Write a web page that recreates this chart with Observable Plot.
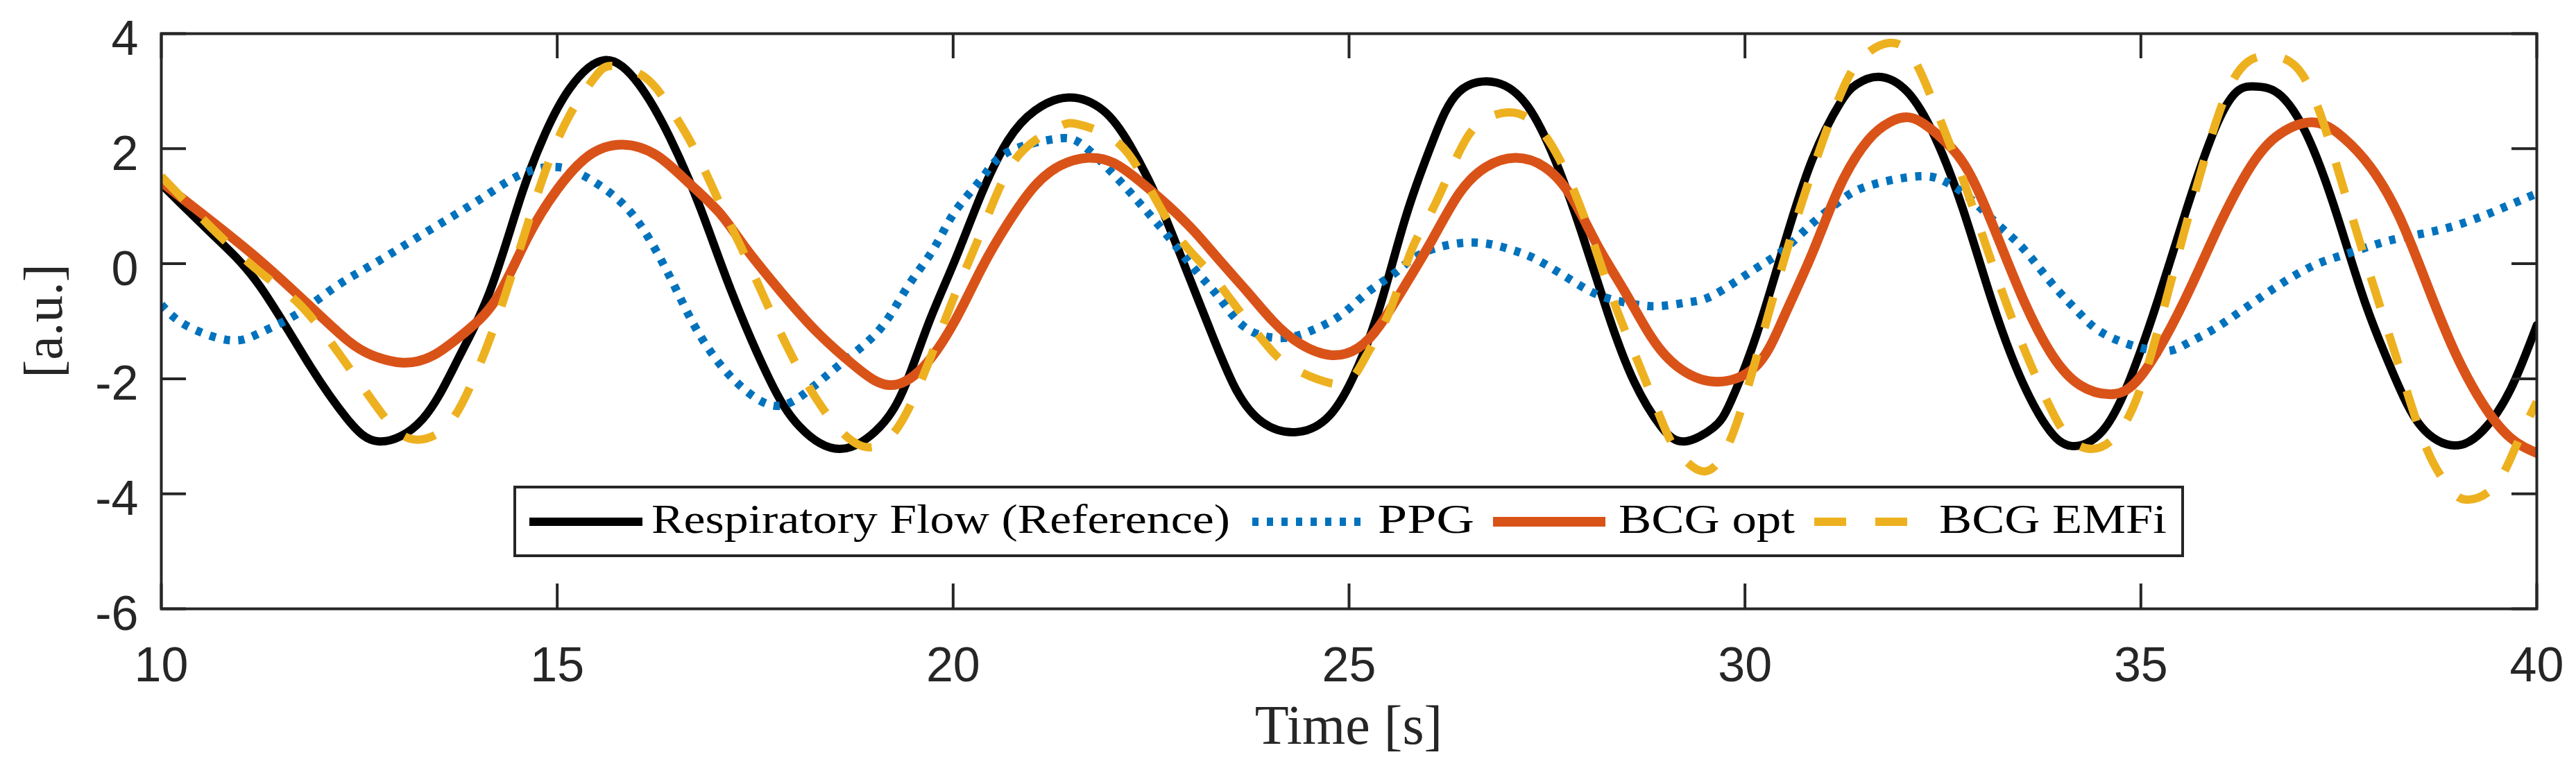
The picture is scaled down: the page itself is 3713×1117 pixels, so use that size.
<!DOCTYPE html>
<html>
<head>
<meta charset="utf-8">
<script src="https://cdn.jsdelivr.net/npm/d3@7"></script>
<script src="https://cdn.jsdelivr.net/npm/@observablehq/plot@0.6"></script>
<style>
  html, body { margin: 0; padding: 0; background: #ffffff; }
  #chart { width: 3713px; height: 1117px; }
</style>
</head>
<body>
<div id="chart"></div>
<script>
// ---- Tick labels ----
const xTicks = [10, 15, 20, 25, 30, 35, 40];
const yTicks = [-6, -4, -2, 0, 2, 4];

// ---- Series names ----
const seriesNames = ["Respiratory Flow (Reference)", "PPG", "BCG opt", "BCG EMFi"];

// ---- Respiratory Flow (Reference) ----
const flowT = [10.0, 10.7, 11.25, 11.88, 12.35, 12.75, 13.3, 13.75, 14.15, 14.54, 14.85, 15.16, 15.6, 16.03, 16.42, 16.81, 17.2, 17.67, 18.06, 18.57, 19.08, 19.4, 19.7, 20.02, 20.36, 20.69, 21.03, 21.46, 21.9, 22.23, 22.57, 22.9, 23.24, 23.57, 23.91, 24.31, 24.71, 25.05, 25.39, 25.72, 26.06, 26.39, 26.86, 27.26, 27.6, 27.93, 28.27, 28.6, 28.94, 29.24, 29.6, 29.82, 30.14, 30.49, 30.85, 31.2, 31.41, 31.69, 32.05, 32.4, 32.75, 33.11, 33.46, 33.81, 34.13, 34.52, 34.87, 35.22, 35.58, 35.93, 36.21, 36.46, 36.77, 37.13, 37.48, 37.83, 38.19, 38.54, 38.96, 39.32, 39.67, 40.0];
const flowV = [1.38, 0.44, -0.4, -1.78, -2.7, -3.09, -2.7, -1.65, -0.48, 1.16, 2.27, 3.05, 3.54, 3.12, 2.2, 0.96, -0.48, -1.98, -2.83, -3.22, -2.83, -2.1, -1.0, 0.05, 1.22, 2.14, 2.66, 2.89, 2.66, 2.07, 1.16, 0.05, -1.13, -2.18, -2.76, -2.93, -2.7, -1.98, -0.74, 0.83, 2.14, 2.99, 3.15, 2.73, 1.81, 0.57, -0.87, -2.05, -2.83, -3.09, -2.85, -2.4, -1.26, 0.31, 1.81, 2.79, 3.12, 3.25, 2.99, 2.2, 0.96, -0.61, -1.92, -2.83, -3.17, -2.9, -1.98, -0.61, 0.96, 2.33, 2.99, 3.08, 2.92, 2.14, 0.83, -0.67, -1.92, -2.83, -3.16, -2.9, -2.18, -1.07];

// ---- PPG ----
const ppgT = [10.0, 10.31, 10.86, 11.25, 11.72, 12.19, 12.66, 13.13, 13.6, 14.07, 14.54, 15.0, 15.4, 15.79, 16.1, 16.42, 16.73, 17.04, 17.36, 17.75, 18.14, 18.6, 19.08, 19.42, 19.75, 20.02, 20.36, 20.69, 21.29, 21.63, 22.03, 22.37, 22.7, 23.04, 23.37, 23.71, 24.18, 24.58, 24.92, 25.25, 25.59, 25.92, 26.53, 27.06, 27.4, 27.8, 28.14, 28.47, 28.87, 29.28, 29.61, 30.14, 30.49, 30.85, 31.2, 31.55, 32.19, 32.54, 32.82, 33.18, 33.53, 33.88, 34.23, 34.59, 35.22, 35.58, 35.93, 36.35, 36.77, 37.2, 37.62, 38.05, 38.47, 38.89, 39.32, 39.67, 40.0];
const ppgV = [-0.71, -1.07, -1.33, -1.2, -0.87, -0.41, -0.02, 0.37, 0.76, 1.16, 1.55, 1.68, 1.48, 1.09, 0.57, -0.22, -1.07, -1.72, -2.18, -2.47, -2.24, -1.72, -1.13, -0.41, 0.25, 0.9, 1.48, 1.94, 2.17, 2.07, 1.55, 1.03, 0.5, -0.08, -0.61, -1.13, -1.29, -1.13, -0.87, -0.48, -0.15, 0.18, 0.37, 0.24, 0.05, -0.28, -0.54, -0.67, -0.74, -0.67, -0.54, -0.08, 0.24, 0.7, 1.09, 1.35, 1.52, 1.42, 1.16, 0.7, 0.24, -0.35, -0.87, -1.26, -1.52, -1.39, -1.13, -0.74, -0.35, -0.02, 0.18, 0.37, 0.5, 0.63, 0.83, 1.03, 1.22];

// ---- BCG opt ----
const optT = [10.0, 10.55, 11.25, 11.88, 12.35, 12.66, 13.05, 13.44, 13.83, 14.23, 14.62, 15.0, 15.4, 15.83, 16.26, 16.65, 17.04, 17.36, 17.82, 18.29, 18.76, 19.19, 19.62, 20.02, 20.36, 20.69, 21.03, 21.36, 21.7, 22.03, 22.37, 22.7, 23.04, 23.37, 23.71, 24.04, 24.38, 24.78, 25.12, 25.39, 25.72, 26.06, 26.39, 26.73, 27.1, 27.47, 27.81, 28.14, 28.48, 28.81, 29.14, 29.61, 30.14, 30.49, 30.85, 31.2, 31.55, 31.83, 32.12, 32.47, 32.82, 33.18, 33.53, 33.88, 34.23, 34.62, 34.94, 35.29, 35.65, 36.0, 36.35, 36.7, 37.16, 37.55, 37.9, 38.26, 38.61, 38.96, 39.32, 39.67, 40.0];
const optV = [1.42, 0.83, 0.05, -0.74, -1.33, -1.59, -1.72, -1.59, -1.2, -0.61, 0.44, 1.29, 1.88, 2.07, 1.88, 1.42, 0.9, 0.31, -0.48, -1.2, -1.78, -2.11, -1.8, -1.0, -0.08, 0.7, 1.35, 1.71, 1.84, 1.75, 1.42, 1.03, 0.57, 0.05, -0.48, -1.0, -1.39, -1.59, -1.46, -1.07, -0.35, 0.44, 1.22, 1.68, 1.84, 1.68, 1.16, 0.31, -0.48, -1.26, -1.78, -2.05, -1.78, -0.93, 0.18, 1.35, 2.14, 2.46, 2.53, 2.2, 1.61, 0.5, -0.67, -1.59, -2.11, -2.27, -2.05, -1.33, -0.35, 0.7, 1.61, 2.2, 2.46, 2.2, 1.68, 0.83, -0.35, -1.52, -2.44, -3.03, -3.29];

// ---- BCG EMFi ----
const emfiT = [10.0, 10.63, 11.25, 11.72, 12.19, 12.66, 12.97, 13.25, 13.6, 13.91, 14.23, 14.54, 14.85, 15.16, 15.48, 15.7, 16.1, 16.42, 16.73, 17.04, 17.36, 17.75, 18.14, 18.53, 18.92, 19.31, 19.68, 20.02, 20.36, 20.69, 21.03, 21.36, 21.56, 21.9, 22.23, 22.57, 22.9, 23.24, 23.57, 23.91, 24.25, 24.78, 25.05, 25.25, 25.52, 25.79, 26.06, 26.39, 26.66, 27.0, 27.33, 27.66, 28.0, 28.33, 28.67, 29.0, 29.2, 29.5, 29.82, 30.14, 30.49, 30.85, 31.2, 31.48, 31.83, 32.12, 32.4, 32.75, 33.11, 33.46, 33.81, 34.09, 34.38, 34.66, 34.94, 35.22, 35.5, 35.79, 36.07, 36.35, 36.67, 36.99, 37.27, 37.55, 37.9, 38.26, 38.61, 38.89, 39.1, 39.46, 39.74, 40.0];
const emfiV = [1.52, 0.63, -0.15, -0.67, -1.46, -2.37, -2.9, -3.06, -2.83, -2.11, -1.0, 0.31, 1.61, 2.59, 3.25, 3.44, 3.25, 2.72, 2.0, 1.09, 0.18, -1.0, -2.05, -2.83, -3.19, -2.83, -1.75, -0.55, 0.57, 1.61, 2.14, 2.4, 2.43, 2.27, 1.88, 1.09, 0.37, -0.15, -0.74, -1.33, -1.78, -2.08, -1.98, -1.52, -0.8, 0.24, 0.96, 1.94, 2.46, 2.63, 2.46, 1.81, 0.7, -0.61, -1.78, -2.9, -3.35, -3.61, -3.05, -1.65, 0.05, 1.61, 2.92, 3.58, 3.84, 3.58, 2.73, 1.48, 0.05, -1.26, -2.37, -3.03, -3.22, -3.03, -2.37, -1.13, 0.31, 1.75, 2.92, 3.51, 3.61, 3.38, 2.59, 1.35, -0.22, -1.78, -3.22, -3.88, -4.1, -3.88, -3.16, -2.4];

// ---- Styles ----
const colors = ["#000000", "#0072BD", "#D95319", "#EDB120"];
const axisColor = "#262626";

const rows = (T, V) => T.map((t, i) => ({t, v: V[i]}));
const flow = rows(flowT, flowV);
const ppg = rows(ppgT, ppgV);
const opt = rows(optT, optV);
const emfi = rows(emfiT, emfiV);

const W = 3713, H = 1117;
const mL = 232, mR = 57, mT = 48, mB = 240;
const innerW = W - mL - mR, innerH = H - mT - mB;
const tickLen = 36;

const chart = Plot.plot({
  width: W,
  height: H,
  marginLeft: mL,
  marginRight: mR,
  marginTop: mT,
  marginBottom: mB,
  style: {fontFamily: "'Liberation Sans', Arial, Helvetica, sans-serif", fontSize: "70px", color: axisColor, background: "#ffffff", overflow: "visible"},
  x: {domain: [10, 40]},
  y: {domain: [-6, 4]},
  marks: [
    Plot.line(flow, {x: "t", y: "v", stroke: colors[0], strokeWidth: 12, curve: "natural", clip: true}),
    Plot.line(ppg, {x: "t", y: "v", stroke: colors[1], strokeWidth: 12, strokeDasharray: "9,12", strokeLinecap: "butt", curve: "natural", clip: true}),
    Plot.line(opt, {x: "t", y: "v", stroke: colors[2], strokeWidth: 14, curve: "natural", clip: true}),
    Plot.line(emfi, {x: "t", y: "v", stroke: colors[3], strokeWidth: 12, strokeDasharray: "46,40", strokeLinecap: "butt", curve: "natural", clip: true}),
    // inward ticks on all four sides
    Plot.ruleX(xTicks, {stroke: axisColor, strokeWidth: 4, insetTop: innerH - tickLen}),
    Plot.ruleX(xTicks, {stroke: axisColor, strokeWidth: 4, insetBottom: innerH - tickLen}),
    Plot.ruleY(yTicks, {stroke: axisColor, strokeWidth: 4, insetRight: innerW - tickLen}),
    Plot.ruleY(yTicks, {stroke: axisColor, strokeWidth: 4, insetLeft: innerW - tickLen}),
    Plot.axisX({ticks: xTicks, tickSize: 0, tickPadding: 55, tickFormat: d => String(d), label: null, fontSize: 70, fill: axisColor}),
    Plot.axisY({ticks: yTicks, tickSize: 0, tickPadding: 33, tickFormat: d => String(d), label: null, fontSize: 70, fill: axisColor, dy: 8}),
    Plot.frame({stroke: axisColor, strokeWidth: 4})
  ]
});

document.getElementById("chart").appendChild(chart);

// ---- Axis titles and legend ----
const svg = d3.select(chart);
const serif = "'Liberation Serif', 'Times New Roman', serif";

svg.append("text")
  .attr("x", mL + innerW / 2).attr("y", 1072)
  .attr("text-anchor", "middle")
  .attr("font-family", serif).attr("font-size", 80)
  .attr("fill", axisColor)
  .text("Time [s]");

svg.append("text")
  .attr("transform", `translate(89,${mT + innerH / 2}) rotate(-90)`)
  .attr("text-anchor", "middle")
  .attr("font-family", serif).attr("font-size", 78)
  .attr("fill", axisColor)
  .text("[a.u.]");

const lg = svg.append("g");
lg.append("rect")
  .attr("x", 742).attr("y", 702).attr("width", 2404).attr("height", 99)
  .attr("fill", "#ffffff").attr("stroke", axisColor).attr("stroke-width", 4);

const legendItems = [
  {name: seriesNames[0], color: colors[0], x1: 763, x2: 926, dash: null, w: 12, tx: 939, tw: 834},
  {name: seriesNames[1], color: colors[1], x1: 1805, x2: 1972, dash: "9,12", w: 12, tx: 1986, tw: 139},
  {name: seriesNames[2], color: colors[2], x1: 2152, x2: 2314, dash: null, w: 14, tx: 2333, tw: 254},
  {name: seriesNames[3], color: colors[3], x1: 2615, x2: 2749, dash: "46,42", w: 12, tx: 2795, tw: 328}
];
const ly = 752;
legendItems.forEach(it => {
  const ln = lg.append("line")
    .attr("x1", it.x1).attr("x2", it.x2).attr("y1", ly).attr("y2", ly)
    .attr("stroke", it.color).attr("stroke-width", it.w)
    .attr("stroke-linecap", "butt");
  if (it.dash) ln.attr("stroke-dasharray", it.dash);
  lg.append("text")
    .attr("x", it.tx).attr("y", 768)
    .attr("text-anchor", "start")
    .attr("font-family", serif).attr("font-size", 60)
    .attr("fill", "#000000")
    .attr("textLength", it.tw).attr("lengthAdjust", "spacingAndGlyphs")
    .text(it.name);
});
</script>
</body>
</html>
